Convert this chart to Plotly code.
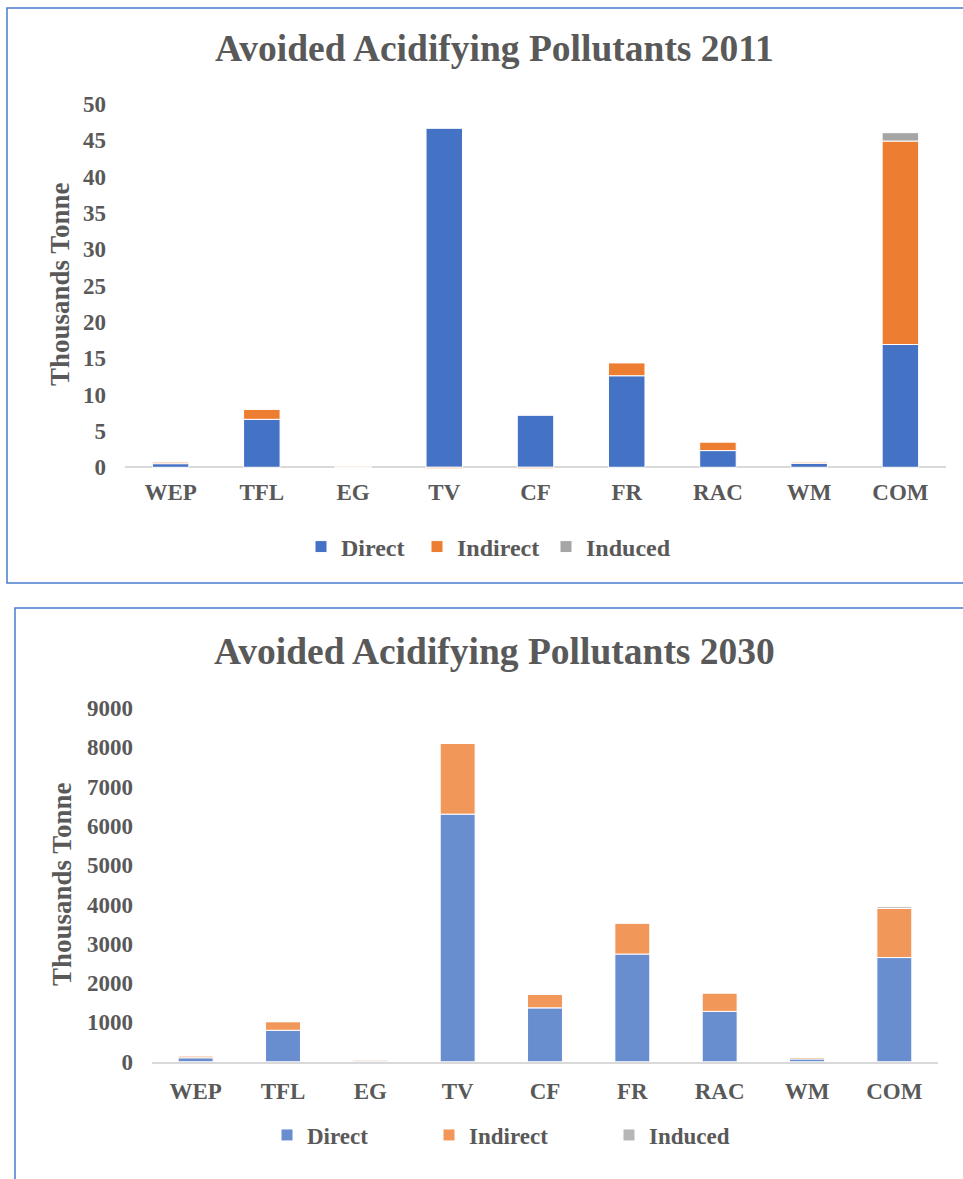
import plotly.graph_objects as go

categories = ["WEP", "TFL", "EG", "TV", "CF", "FR", "RAC", "WM", "COM"]

# 2011 (thousand tonne)
direct_2011 = [0.5, 6.6, 0.05, 46.7, 7.2, 12.6, 2.3, 0.55, 16.9]
indirect_2011 = [0.25, 1.4, 0.15, -0.2, -0.2, 1.8, 1.2, 0.2, 28.0]
induced_2011 = [0.0, 0.0, 0.0, 0.0, 0.0, 0.0, 0.0, 0.0, 1.15]

# 2030 (thousand tonne)
direct_2030 = [100, 800, 20, 6300, 1370, 2740, 1280, 70, 2650]
indirect_2030 = [50, 220, 30, 1800, 340, 790, 470, 40, 1250]
induced_2030 = [0, 0, 0, 0, 0, 0, 0, 0, 45]

series_names = ["Direct", "Indirect", "Induced"]
colors_2011 = ["#4472C4", "#ED7D31", "#A5A5A5"]
colors_2030 = ["#698ED0", "#F1975A", "#B7B7B7"]

FONT = "Liberation Serif, Times New Roman, serif"
TXT = "#595959"
W, H = 963, 1179


def px_x(x):
    return x / W


def px_y(y):
    return 1 - y / H


fig = go.Figure()

legends_2011 = ["legend", "legend3", "legend4"]
legends_2030 = ["legend2", "legend5", "legend6"]

for name, vals, col, lg in zip(series_names, [direct_2011, indirect_2011, induced_2011], colors_2011, legends_2011):
    fig.add_trace(go.Bar(
        x=categories, y=vals, name=name, marker=dict(color=col, line=dict(color="white", width=1)),
        xaxis="x", yaxis="y", legend=lg, width=0.4, showlegend=True,
    ))

for name, vals, col, lg in zip(series_names, [direct_2030, indirect_2030, induced_2030], colors_2030, legends_2030):
    fig.add_trace(go.Bar(
        x=categories, y=vals, name=name, marker=dict(color=col, line=dict(color="white", width=1)),
        xaxis="x2", yaxis="y2", legend=lg, width=0.4, showlegend=True,
    ))

tickfont = dict(family=FONT, size=23, color=TXT, weight="bold")
legfont = dict(family=FONT, size=24, color=TXT, weight="bold")
legfont2 = dict(family=FONT, size=23, color=TXT, weight="bold")


def leg(xpx, ypx, font):
    return dict(orientation="h", x=px_x(xpx), xanchor="left", y=px_y(ypx), yanchor="middle",
                font=font, bgcolor="rgba(0,0,0,0)", borderwidth=0, visible=True)


fig.update_layout(
    width=W, height=H,
    showlegend=True,
    margin=dict(l=0, r=0, t=0, b=0, pad=0, autoexpand=False),
    paper_bgcolor="white", plot_bgcolor="white",
    barmode="relative",
    xaxis=dict(domain=[px_x(125), px_x(946)], anchor="y", showgrid=False, zeroline=False,
               showline=False, ticks="", tickfont=tickfont, ticklabelstandoff=6),
    yaxis=dict(domain=[px_y(470.2), px_y(104)], anchor="x", range=[-0.4, 50], dtick=5,
               showgrid=False, zeroline=True, zerolinecolor="#D9D9D9", zerolinewidth=1.5,
               ticks="", tickfont=tickfont, ticklabelstandoff=18),
    xaxis2=dict(domain=[px_x(152), px_x(938)], anchor="y2", showgrid=False, zeroline=False,
                showline=True, linecolor="#D9D9D9", linewidth=1.5, ticks="", tickfont=tickfont,
                ticklabelstandoff=8),
    yaxis2=dict(domain=[px_y(1061.7), px_y(708)], anchor="x2", range=[0, 9000], dtick=1000,
                showgrid=False, zeroline=False, ticks="", tickfont=tickfont, ticklabelstandoff=18),
    legend=leg(301, 547, legfont),
    legend3=leg(417, 547, legfont),
    legend4=leg(546, 547, legfont),
    legend2=leg(267, 1135, legfont2),
    legend5=leg(429, 1135, legfont2),
    legend6=leg(609, 1135, legfont2),
    shapes=[
        dict(type="rect", xref="paper", yref="paper", x0=px_x(7), x1=1.02, y0=px_y(583), y1=px_y(8),
             line=dict(color="#4A7BD0", width=1.5), fillcolor="rgba(0,0,0,0)", layer="below"),
        dict(type="rect", xref="paper", yref="paper", x0=px_x(15), x1=1.02, y0=-0.02, y1=px_y(608),
             line=dict(color="#4A7BD0", width=1.5), fillcolor="rgba(0,0,0,0)", layer="below"),
    ],
    annotations=[
        dict(text="Avoided Acidifying Pollutants 2011", xref="paper", yref="paper",
             x=px_x(495), y=px_y(48), xanchor="center", yanchor="middle", showarrow=False,
             font=dict(family=FONT, size=37.5, color=TXT, weight="bold")),
        dict(text="Avoided Acidifying Pollutants 2030", xref="paper", yref="paper",
             x=px_x(495), y=px_y(652), xanchor="center", yanchor="middle", showarrow=False,
             font=dict(family=FONT, size=37.5, color=TXT, weight="bold")),
        dict(text="Thousands Tonne", xref="paper", yref="paper", textangle=-90,
             x=px_x(60), y=px_y(285), xanchor="center", yanchor="middle", showarrow=False,
             font=dict(family=FONT, size=27, color=TXT, weight="bold")),
        dict(text="Thousands Tonne", xref="paper", yref="paper", textangle=-90,
             x=px_x(62), y=px_y(885), xanchor="center", yanchor="middle", showarrow=False,
             font=dict(family=FONT, size=27, color=TXT, weight="bold")),
    ],
)

fig.write_html("out.html")
